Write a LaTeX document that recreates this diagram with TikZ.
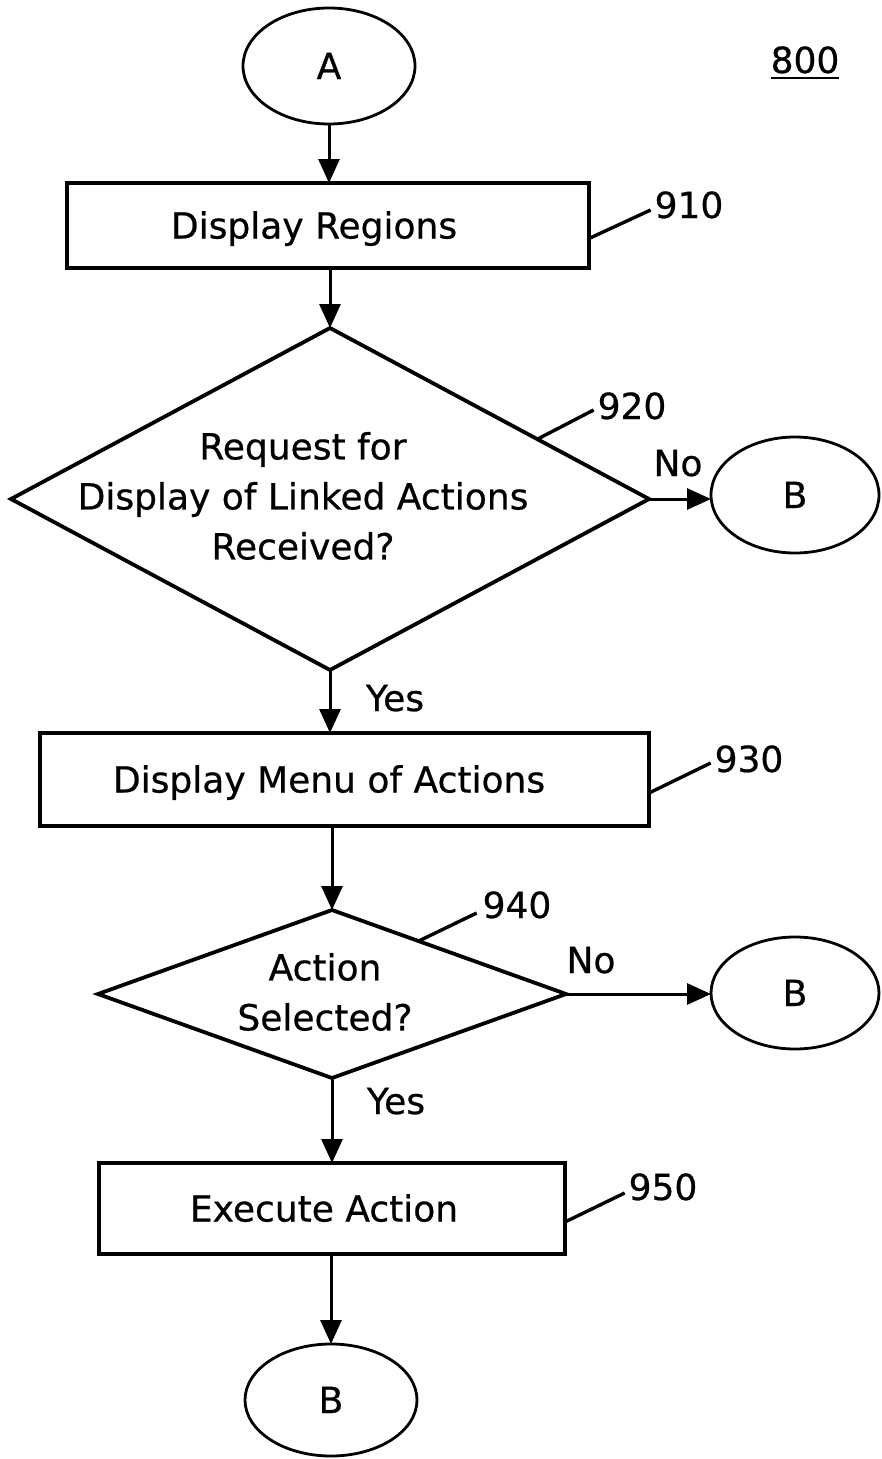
\documentclass[tikz,border=0pt]{standalone}
\usepackage{fontspec}
\setmainfont{DejaVu Sans}[UprightFeatures={FakeBold=0.6}]
\usetikzlibrary{shapes.geometric,arrows.meta,calc}
\begin{document}
\begin{tikzpicture}[x=1pt,y=-1pt,
  every node/.style={font=\fontsize{36}{50}\selectfont, inner sep=0pt, outer sep=0pt},
  procbox/.style={draw, line width=3.8pt, rectangle, text height=26pt, text depth=0pt},
  decision/.style={draw, line width=3.8pt, diamond},
  term/.style={draw, line width=2.8pt, ellipse, text height=26pt, text depth=0pt},
  flow/.style={draw, line width=3pt, -{Triangle[length=24pt,width=21pt]}},
  lead/.style={draw, line width=3.4pt},
  tag/.style={text height=26pt, text depth=0pt},
  qtext/.style={align=center}
]
\useasboundingbox (0,0) rectangle (881,1459);

% terminals
\node[term, minimum width=172pt, minimum height=116pt] (A) at (329,66) {A};
\node[term, minimum width=168pt, minimum height=116pt] (B1) at (795,495) {B};
\node[term, minimum width=168pt, minimum height=112pt] (B2) at (795,993) {B};
\node[term, minimum width=172pt, minimum height=112pt] (B3) at (331,1400) {B};

% process boxes
\node[procbox, minimum width=522pt, minimum height=85pt] (b1) at (328,225.5) {Display Regions\hspace*{28pt}};
\node[procbox, minimum width=609pt, minimum height=93pt] (b2) at (344.5,779.5) {Display Menu of Actions\hspace*{31pt}};
\node[procbox, minimum width=466pt, minimum height=91pt] (b3) at (332,1208.5) {Execute Action\hspace*{16pt}};

% decisions
\node[decision, minimum width=638pt, minimum height=342pt] (d1) at (330,499) {};
\node[qtext] (d1t) at (303,496) {Request for\\Display of Linked Actions\\Received?};
\node[decision, minimum width=468pt, minimum height=168pt] (d2) at (332,994) {};
\node[qtext] (d2t) at (325,992) {Action\\Selected?};

% reference labels
\node[tag] (l800) at (805,60) {800};
\node[tag] (l910) at (689,205) {910};
\node[tag] (l920) at (632,406) {920};
\node[tag] (l930) at (749,759) {930};
\node[tag] (l940) at (517,905) {940};
\node[tag] (l950) at (663,1187) {950};

% branch labels
\node[tag] (y1) at (395,698) {Yes};
\node[tag] (y2) at (396,1101) {Yes};
\node[tag] (n1) at (678,463) {No};
\node[tag] (n2) at (591,960) {No};

\draw[line width=2.6pt] ([yshift=-18pt]l800.west) -- ([yshift=-18pt]l800.east);

% flow
\draw[flow] (A.south) -- (A.south |- b1.north);
\draw[flow] (d1.north |- b1.south) -- (d1.north);
\draw[flow] (d1.south) -- (d1.south |- b2.north);
\draw[flow] (d2.north |- b2.south) -- (d2.north);
\draw[flow] (d2.south) -- (d2.south |- b3.north);
\draw[flow] (B3.north |- b3.south) -- (B3.north);
\draw[flow] (d1.east) -- (d1.east -| B1.west);
\draw[flow] (d2.east) -- (d2.east -| B2.west);

% leaders
\draw[lead] ([yshift=-13pt]b1.east) -- ([xshift=-4pt,yshift=-5pt]l910.west);
\draw[lead] ($(d1.north)!0.65!(d1.east)$) -- ([xshift=-4pt,yshift=-4pt]l920.west);
\draw[lead] ([yshift=-13.5pt]b2.east) -- ([xshift=-4pt,yshift=-4pt]l930.west);
\draw[lead] ($(d2.north)!0.37!(d2.east)$) -- ([xshift=-6pt,yshift=-8pt]l940.west);
\draw[lead] ([yshift=-13.5pt]b3.east) -- ([xshift=-4pt,yshift=-6pt]l950.west);
\end{tikzpicture}
\end{document}
